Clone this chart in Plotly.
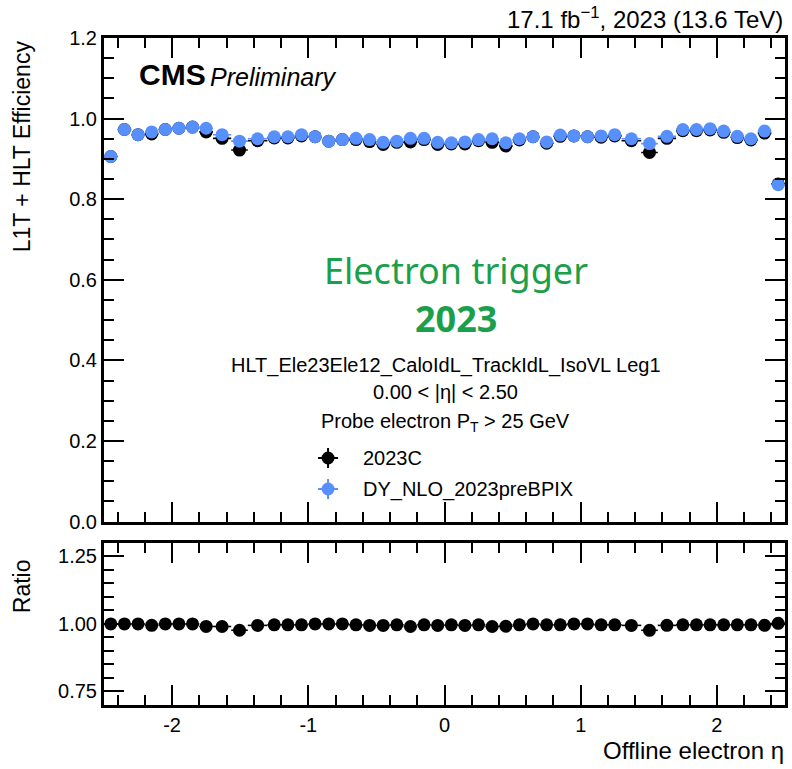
import plotly.graph_objects as go

# ---------------- data ----------------
eta_edges = [-2.5, -2.4, -2.3, -2.2, -2.1, -2.0, -1.9, -1.8, -1.7, -1.566, -1.4442,
             -1.3, -1.2, -1.1, -1.0, -0.9, -0.8, -0.7, -0.6, -0.5, -0.4, -0.3, -0.2, -0.1,
             0.0, 0.1, 0.2, 0.3, 0.4, 0.5, 0.6, 0.7, 0.8, 0.9, 1.0, 1.1, 1.2, 1.3,
             1.4442, 1.566, 1.7, 1.8, 1.9, 2.0, 2.1, 2.2, 2.3, 2.4, 2.5]

eff_data = [0.906, 0.973, 0.960, 0.962, 0.973, 0.976, 0.979, 0.967, 0.951, 0.922,
            0.945, 0.952, 0.952, 0.957, 0.955, 0.944, 0.948, 0.948, 0.943, 0.936,
            0.941, 0.942, 0.948, 0.936, 0.937, 0.937, 0.945, 0.941, 0.932, 0.947,
            0.955, 0.939, 0.956, 0.957, 0.955, 0.954, 0.957, 0.945, 0.916, 0.951,
            0.970, 0.970, 0.972, 0.966, 0.953, 0.947, 0.964, 0.838]

eff_mc = [0.906, 0.973, 0.960, 0.967, 0.973, 0.976, 0.979, 0.976, 0.960, 0.944,
          0.950, 0.955, 0.955, 0.960, 0.955, 0.944, 0.948, 0.951, 0.948, 0.941,
          0.944, 0.951, 0.951, 0.941, 0.940, 0.942, 0.948, 0.950, 0.940, 0.950,
          0.955, 0.942, 0.959, 0.957, 0.955, 0.957, 0.960, 0.950, 0.938, 0.956,
          0.973, 0.973, 0.975, 0.969, 0.956, 0.950, 0.969, 0.836]

err_data = [0.006, 0.003, 0.002, 0.002, 0.002, 0.002, 0.002, 0.002, 0.002, 0.003,
            0.002, 0.002, 0.002, 0.002, 0.002, 0.002, 0.002, 0.002, 0.002, 0.002,
            0.002, 0.002, 0.002, 0.002, 0.002, 0.002, 0.002, 0.002, 0.002, 0.002,
            0.002, 0.002, 0.002, 0.002, 0.002, 0.002, 0.002, 0.002, 0.003, 0.002,
            0.002, 0.002, 0.002, 0.002, 0.002, 0.002, 0.003, 0.008]

err_mc = [0.004, 0.002, 0.001, 0.001, 0.001, 0.001, 0.001, 0.001, 0.001, 0.002,
          0.001, 0.001, 0.001, 0.001, 0.001, 0.001, 0.001, 0.001, 0.001, 0.001,
          0.001, 0.001, 0.001, 0.001, 0.001, 0.001, 0.001, 0.001, 0.001, 0.001,
          0.001, 0.001, 0.001, 0.001, 0.001, 0.001, 0.001, 0.001, 0.002, 0.001,
          0.001, 0.001, 0.001, 0.001, 0.001, 0.001, 0.002, 0.006]

x_tickvals = [-2, -1, 0, 1, 2]
x_ticktext = ["-2", "-1", "0", "1", "2"]
ratio_tickvals = [0.75, 1.00, 1.25]

series_names = ["2023C", "DY_NLO_2023preBPIX"]

# ---------------- derived ----------------
centers = [(a + b) / 2 for a, b in zip(eta_edges[:-1], eta_edges[1:])]
halfw = [(b - a) / 2 for a, b in zip(eta_edges[:-1], eta_edges[1:])]
ratio = [d / m for d, m in zip(eff_data, eff_mc)]
ratio_err = [e / m for e, m in zip(err_data, eff_mc)]

BLUE = "#5790fc"
BLACK = "#000000"
GREEN = "#1a9f4a"
FONT = "Liberation Sans, Arial, sans-serif"

fig = go.Figure()

fig.add_trace(go.Scatter(
    x=centers, y=eff_data, mode="markers", name=series_names[0],
    marker=dict(color=BLACK, size=13, symbol="circle"),
    error_x=dict(type="data", array=halfw, color=BLACK, thickness=1.6, width=0),
    error_y=dict(type="data", array=err_data, color=BLACK, thickness=1.6, width=0),
    xaxis="x", yaxis="y", showlegend=False))

fig.add_trace(go.Scatter(
    x=centers, y=eff_mc, mode="markers", name=series_names[1],
    marker=dict(color=BLUE, size=13, symbol="circle"),
    error_x=dict(type="data", array=halfw, color=BLUE, thickness=1.6, width=0),
    error_y=dict(type="data", array=err_mc, color=BLUE, thickness=1.6, width=0),
    xaxis="x", yaxis="y", showlegend=False))

fig.add_trace(go.Scatter(
    x=centers, y=ratio, mode="markers", name="Ratio",
    marker=dict(color=BLACK, size=13, symbol="circle"),
    error_x=dict(type="data", array=halfw, color=BLACK, thickness=1.6, width=0),
    error_y=dict(type="data", array=ratio_err, color=BLACK, thickness=1.6, width=0),
    xaxis="x2", yaxis="y2", showlegend=False))

axis_common = dict(
    showline=True, linewidth=3, linecolor="black", mirror="allticks",
    ticks="inside", ticklen=20, tickwidth=1.5, tickcolor="black",
    showgrid=False, zeroline=False,
    tickfont=dict(family=FONT, size=20, color="black"),
)

fig.update_layout(
    width=792, height=769,
    margin=dict(l=104, r=4, t=38, b=64),
    paper_bgcolor="white", plot_bgcolor="white",
    font=dict(family=FONT, color="black"),
    xaxis=dict(**axis_common, domain=[0, 1], range=[-2.5, 2.5],
               tickvals=x_tickvals, ticktext=x_ticktext, showticklabels=False,
               anchor="y", matches="x2",
               minor=dict(ticks="inside", ticklen=10, tickwidth=1.5, tickcolor="black",
                          dtick=0.2, tick0=0, showgrid=False)),
    yaxis=dict(**axis_common, domain=[0.275, 1], range=[0, 1.2], dtick=0.2, tick0=0,
               tickformat=".1f", anchor="x",
               minor=dict(ticks="inside", ticklen=10, tickwidth=1.5, tickcolor="black",
                          dtick=0.05, tick0=0, showgrid=False)),
    xaxis2=dict(**axis_common, domain=[0, 1], range=[-2.5, 2.5],
                tickvals=x_tickvals, ticktext=x_ticktext, anchor="y2",
                minor=dict(ticks="inside", ticklen=10, tickwidth=1.5, tickcolor="black",
                           dtick=0.2, tick0=0, showgrid=False)),
    yaxis2=dict(**axis_common, domain=[0, 0.243], range=[0.7, 1.3],
                tickvals=ratio_tickvals, tickformat=".2f", anchor="x2",
                minor=dict(ticks="inside", ticklen=10, tickwidth=1.5, tickcolor="black",
                           dtick=0.05, tick0=0, showgrid=False)),
)

ann = []
def A(text, x, y, size, xanchor="center", yanchor="middle", color="black", angle=0, family=FONT):
    ann.append(dict(text=text, x=x, y=y, xref="paper", yref="paper", showarrow=False,
                    xanchor=xanchor, yanchor=yanchor, textangle=angle,
                    font=dict(family=family, size=size, color=color)))

A("17.1 fb<sup>−1</sup>, 2023 (13.6 TeV)", 1.0, 1.03, 24, xanchor="right")
A("<b>CMS</b>", 0.049, 0.945, 30, xanchor="left")
A("<i>Preliminary</i>", 0.152, 0.942, 25, xanchor="left")
A("L1T + HLT Efficiency", -0.12, 1.0, 23, yanchor="top", angle=-90)
A("Ratio", -0.12, 0.222, 23, yanchor="top", angle=-90)
A("Offline electron η", 1.002, -0.068, 24, xanchor="right")
A("Electron trigger", 0.5175, 0.652, 36, color=GREEN, family="Noto Sans, sans-serif")
A("<b>2023</b>", 0.5175, 0.580, 36, color=GREEN, family="Noto Sans, sans-serif")
A("HLT_Ele23Ele12_CaloIdL_TrackIdL_IsoVL Leg1", 0.5015, 0.5097, 20)
A("0.00 < |η| < 2.50", 0.5015, 0.469, 20)
A("Probe electron P<sub>T</sub> > 25 GeV", 0.5015, 0.4228, 20)

# manual legend
leg_x = 0.329
leg_ys = [0.3703, 0.3238]
leg_colors = [BLACK, BLUE]
shapes = []
for name, ly, col in zip(series_names, leg_ys, leg_colors):
    A(name, leg_x + 0.048, ly, 20, xanchor="left")
    shapes.append(dict(type="line", xref="paper", yref="paper", xsizemode="pixel", ysizemode="pixel",
                       xanchor=leg_x, yanchor=ly, x0=-10, x1=10, y0=0, y1=0,
                       line=dict(color=col, width=2)))
    shapes.append(dict(type="line", xref="paper", yref="paper", xsizemode="pixel", ysizemode="pixel",
                       xanchor=leg_x, yanchor=ly, x0=0, x1=0, y0=-10, y1=10,
                       line=dict(color=col, width=2)))
    shapes.append(dict(type="circle", xref="paper", yref="paper", xsizemode="pixel", ysizemode="pixel",
                       xanchor=leg_x, yanchor=ly, x0=-6.5, x1=6.5, y0=-6.5, y1=6.5,
                       fillcolor=col, line=dict(color=col, width=0)))

fig.update_layout(annotations=ann, shapes=shapes)

fig.write_html("out.html")
